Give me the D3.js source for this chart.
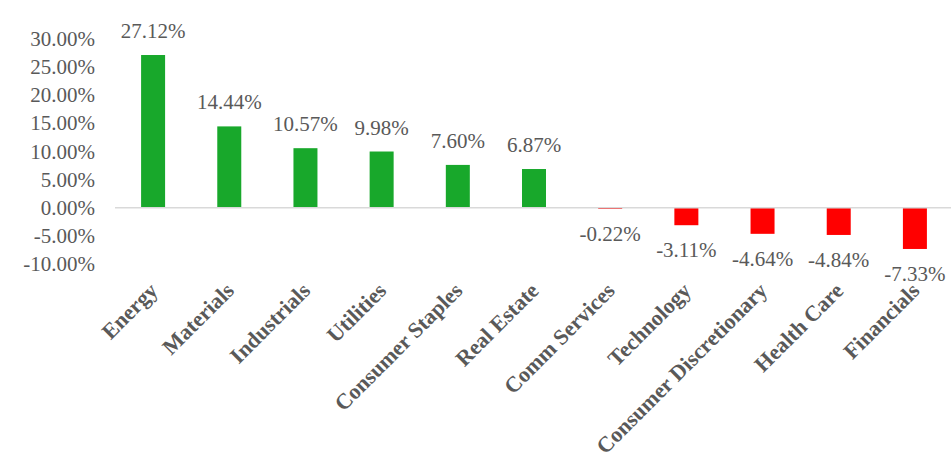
<!DOCTYPE html>
<html>
<head>
<meta charset="utf-8">
<script src="https://cdn.jsdelivr.net/npm/d3@7"></script>
<style>
  body { margin: 0; background: #fff; }
  text { font-family: "Liberation Serif", serif; }
</style>
</head>
<body>
<div id="chart-area"></div>
<script>
var sectors = ["Energy", "Materials", "Industrials", "Utilities", "Consumer Staples", "Real Estate",
    "Comm Services", "Technology", "Consumer Discretionary", "Health Care", "Financials"];
var returns = [27.12, 14.44, 10.57, 9.98, 7.60, 6.87, -0.22, -3.11, -4.64, -4.84, -7.33];
var yTicks = [30, 25, 20, 15, 10, 5, 0, -5, -10];

var width = 951, height = 467;

var svg = d3.select("#chart-area").append("svg")
    .attr("width", width)
    .attr("height", height);

var x = d3.scaleBand()
    .domain(sectors)
    .range([115, 953])
    .paddingInner(0.685)
    .paddingOuter(0.3425);

var y = d3.scaleLinear()
    .domain([-10, 30])
    .range([264, 38.8]);

// y axis labels only
var leftAxis = d3.axisLeft(y)
    .tickValues(yTicks)
    .tickSize(0)
    .tickPadding(0)
    .tickFormat((d) => { return d.toFixed(2) + "%"; });

var yAxis = svg.append("g")
    .attr("transform", "translate(95, 0)")
    .call(leftAxis);
yAxis.select(".domain").remove();
yAxis.selectAll("text")
    .attr("font-family", "Liberation Serif, serif")
    .attr("font-size", "21px")
    .attr("fill", "#595959");

// bars
svg.selectAll("rect.bar")
    .data(returns)
    .enter()
    .append("rect")
        .attr("class", "bar")
        .attr("x", (d, i) => { return x(sectors[i]); })
        .attr("y", (d) => { return y(Math.max(0, d)); })
        .attr("width", x.bandwidth())
        .attr("height", (d) => { return Math.abs(y(d) - y(0)); })
        .attr("fill", (d) => { return d >= 0 ? "#18a82b" : "#ff0000"; });

// zero line
svg.append("line")
    .attr("x1", 115)
    .attr("x2", width)
    .attr("y1", y(0))
    .attr("y2", y(0))
    .attr("stroke", "#d9d9d9")
    .attr("stroke-width", 1.5);

// value labels
svg.selectAll("text.value")
    .data(returns)
    .enter()
    .append("text")
        .attr("class", "value")
        .attr("x", (d, i) => { return x(sectors[i]) + x.bandwidth() / 2; })
        .attr("y", (d) => { return d >= 0 ? y(d) - 17 : y(d) + 32; })
        .attr("text-anchor", "middle")
        .attr("font-size", "21px")
        .attr("fill", "#595959")
        .text((d) => { return d.toFixed(2) + "%"; });

// category labels
svg.selectAll("text.cat")
    .data(sectors)
    .enter()
    .append("text")
        .attr("class", "cat")
        .attr("transform", (d) => {
            return "translate(" + (x(d) + x.bandwidth() / 2 + 6) + ", 292) rotate(-45)";
        })
        .attr("text-anchor", "end")
        .attr("font-size", "22px")
        .attr("font-weight", "bold")
        .attr("fill", "#595959")
        .text((d) => { return d; });
</script>
</body>
</html>
